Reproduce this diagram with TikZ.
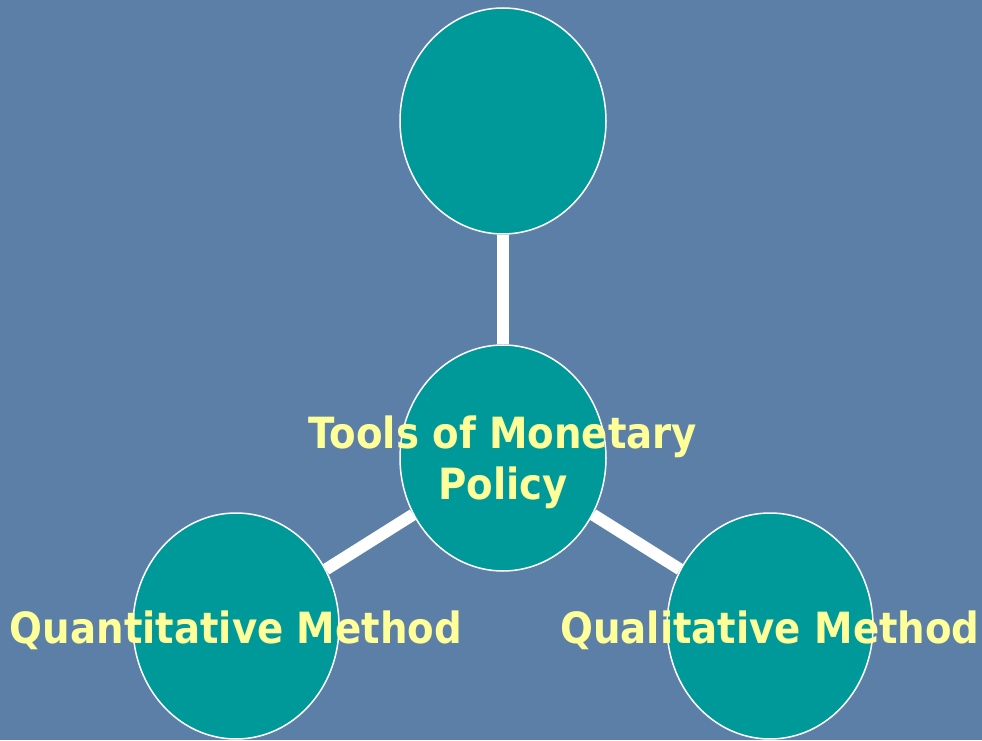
\documentclass[tikz,border=0pt]{standalone}
\usepackage{fontspec}
\setmainfont{DejaVu Sans Condensed}
\usetikzlibrary{shapes.geometric}
\pgfdeclarelayer{backdrop}
\pgfdeclarelayer{links}
\pgfsetlayers{backdrop,links,main}
\definecolor{slate}{RGB}{92,127,168}
\definecolor{tealfill}{RGB}{0,153,153}
\definecolor{paleyellow}{RGB}{255,255,153}
\tikzset{
  bubble/.style={ellipse, fill=tealfill, draw=white, line width=1.5pt,
    minimum width=206pt, minimum height=226pt, inner sep=0pt},
  link/.style={draw=white, line width=12pt},
  caption/.style={text=paleyellow, align=center, inner sep=0pt, yshift=-4pt,
    font=\fontsize{43}{51}\selectfont\bfseries}
}
\begin{document}
\begin{tikzpicture}[x=1pt,y=1pt]
  \useasboundingbox (0,0) rectangle (982,740);
  \begin{pgfonlayer}{backdrop}
    \fill[slate] (0,0) rectangle (982,740);
  \end{pgfonlayer}

  % the four circles
  \node[bubble] (top)    at (503,619) {};
  \node[bubble] (center) at (503,282) {};
  \node[bubble] (quant)  at (236,114) {};
  \node[bubble] (qual)   at (770,114) {};

  % white spokes from the central circle
  \begin{pgfonlayer}{links}
    \path[link] (center) -- (top);
    \path[link] (center) -- (quant);
    \path[link] (center) -- (qual);
  \end{pgfonlayer}

  % labels
  \node[caption] (centertext) at (center) {Tools of Monetary\\Policy};
  \node[caption] (quanttext)  at (quant)  {Quantitative Method};
  \node[caption] (qualtext)   at (qual)   {Qualitative Method};
\end{tikzpicture}
\end{document}
